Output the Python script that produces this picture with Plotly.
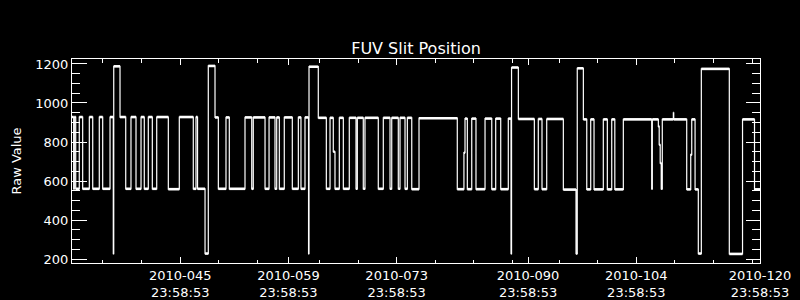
import plotly.graph_objects as go

# ---- data (day-of-year 2010, fractional; raw value held until next entry) ----
seg_day = [32.00, 32.22, 32.30, 32.48, 32.94, 33.38, 34.24, 34.68, 35.53, 35.97,
           36.92, 37.34, 37.40, 38.21, 38.95, 39.63, 40.28, 40.93, 41.35, 41.87,
           42.39, 42.96, 44.46, 45.88, 47.69, 48.04, 48.24, 49.21, 49.63, 50.50,
           50.93, 51.92, 52.35, 54.38, 55.25, 55.45, 56.97, 57.49, 58.26, 58.48,
           58.82, 59.46, 60.50, 61.28, 61.62, 62.14, 62.60, 62.66, 63.86, 64.90,
           65.38, 65.80, 66.02, 66.58, 67.10, 67.87, 68.74, 68.91, 69.68, 69.90,
           71.62, 72.27, 73.14, 73.36, 74.21, 74.43, 75.08, 75.38, 75.95, 76.89,
           81.84, 82.70, 82.84, 83.14, 83.71, 84.26, 85.43, 86.30, 86.81, 87.46,
           88.44, 88.79, 88.86, 89.74, 91.81, 92.32, 92.80, 93.41, 95.56, 97.20,
           97.36, 98.15, 98.59, 99.10, 99.53, 100.73, 101.25, 101.82, 102.22, 103.32,
           106.99, 107.07, 107.85, 107.96, 108.09, 108.22, 108.36, 109.79, 109.84, 111.52,
           112.04, 112.17, 112.60, 113.02, 113.41, 117.03, 118.74, 120.29]
seg_val = [928, 560, 928, 560, 928, 560, 928, 560, 928, 560,
           928, 228, 1188, 928, 560, 928, 560, 928, 560, 928,
           560, 928, 558, 928, 560, 928, 560, 228, 1190, 926,
           560, 926, 560, 926, 560, 926, 560, 926, 560, 926,
           560, 926, 560, 926, 560, 926, 228, 1186, 924, 560,
           924, 750, 560, 924, 560, 924, 560, 924, 560, 924,
           560, 924, 560, 924, 560, 924, 560, 924, 558, 922,
           558, 745, 920, 558, 920, 558, 920, 558, 920, 558,
           920, 228, 1182, 918, 558, 918, 558, 918, 556, 228,
           1178, 916, 557, 916, 557, 916, 557, 916, 557, 916,
           560, 916, 880, 786, 692, 560, 916, 950, 916, 557,
           735, 916, 557, 228, 1175, 226, 916, 557]
end_day = 121.0

tick_days = [45.999, 59.999, 73.999, 90.999, 104.999, 120.999]
tick_dates = ["2010-045", "2010-059", "2010-073", "2010-090", "2010-104", "2010-120"]
tick_time = "23:58:53"
minor_days = [36, 41, 51, 56, 64, 69, 79, 84, 89, 95, 100, 110, 115, 120]
y_ticks = [200, 400, 600, 800, 1000, 1200]

# ---- build traces ----
xs = seg_day + [end_day]
ys = seg_val + [seg_val[-1]]

band_x, band_y = [], []
for i, v in enumerate(seg_val):
    t1 = seg_day[i + 1] if i + 1 < len(seg_day) else end_day
    band_x += [seg_day[i], t1, None]
    band_y += [v, v, None]

font = "DejaVu Sans"
fig = go.Figure()
fig.add_trace(go.Scatter(x=xs, y=ys, mode="lines",
                         line=dict(color="white", width=1.2, shape="hv"),
                         hoverinfo="skip", showlegend=False))
fig.add_trace(go.Scatter(x=band_x, y=band_y, mode="lines",
                         line=dict(color="white", width=2.6),
                         hoverinfo="skip", showlegend=False))

fig.update_layout(
    width=800, height=300,
    margin=dict(l=72, r=40, t=59, b=37, autoexpand=False),
    paper_bgcolor="black", plot_bgcolor="black",
    font=dict(family=font, color="white", size=13),
    title=dict(text="FUV Slit Position", x=0.5, xref="paper", xanchor="center",
               y=0.84, yref="container", yanchor="middle",
               font=dict(family=font, size=16, color="white")),
)
fig.update_xaxes(
    range=[32.0, 121.0], showgrid=False, zeroline=False, automargin=False,
    showline=True, linecolor="white", linewidth=1, mirror="ticks",
    tickmode="array", tickvals=tick_days,
    ticktext=[d + "<br>" + tick_time for d in tick_dates],
    ticks="inside", ticklen=6, tickcolor="white", tickwidth=1,
    tickfont=dict(family=font, size=13, color="white"),
    minor=dict(tickmode="array", tickvals=minor_days, ticks="inside",
               ticklen=3.5, tickcolor="white", tickwidth=1, showgrid=False),
)
fig.update_yaxes(
    range=[179.5, 1225.6], showgrid=False, zeroline=False, automargin=False,
    showline=True, linecolor="white", linewidth=1, mirror="ticks",
    tickmode="array", tickvals=y_ticks,
    ticks="inside", ticklen=14.5, tickcolor="white", tickwidth=1,
    tickfont=dict(family=font, size=13, color="white"),
    minor=dict(dtick=50, tick0=0, ticks="inside", ticklen=8,
               tickcolor="white", tickwidth=1, showgrid=False),
    title=dict(text="Raw Value", font=dict(family=font, size=13, color="white"), standoff=10),
)

fig.write_html("out.html")
